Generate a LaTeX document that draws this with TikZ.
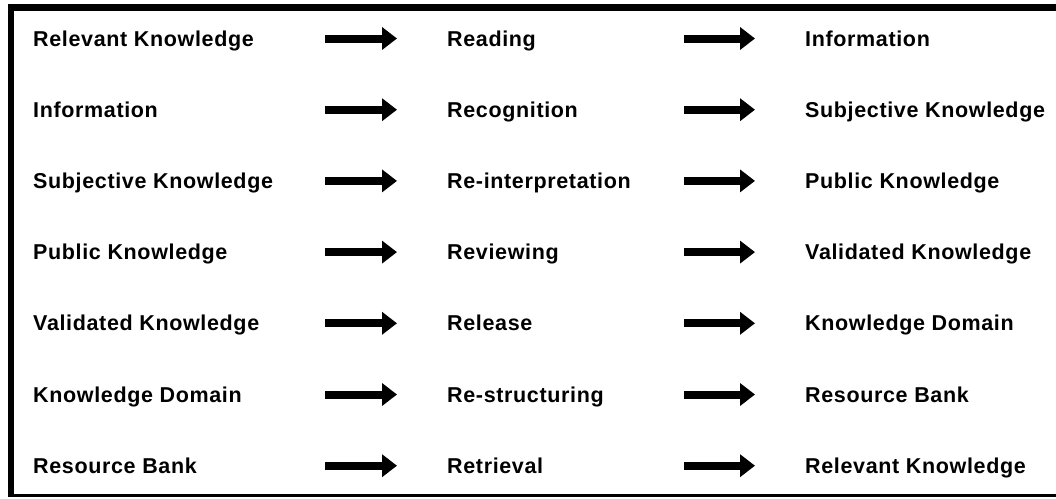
\documentclass[tikz,border=0pt]{standalone}
\usepackage{fontspec}
\setmainfont{Liberation Sans}[LetterSpace=3]
\usetikzlibrary{arrows.meta}
\begin{document}
\begin{tikzpicture}[x=1pt,y=-1pt,
  lbl/.style={anchor=base west,inner sep=0pt,font=\fontsize{21.5}{24}\selectfont\bfseries},
  flow/.style={line width=8pt,-{Triangle[length=15pt,width=22pt]}}]
\useasboundingbox (0,0) rectangle (1056,498);
\fill[white] (0,0) rectangle (1056,498);
% border
\fill[black] (8,4) rectangle (1056,11);
\fill[black] (8,4) rectangle (14,497);
\fill[black] (8,494) rectangle (1056,496.5);
\foreach \i/\a/\b/\c in {
 0/Relevant Knowledge/Reading/Information,
 1/Information/Recognition/Subjective Knowledge,
 2/Subjective Knowledge/Re-interpretation/Public Knowledge,
 3/Public Knowledge/Reviewing/Validated Knowledge,
 4/Validated Knowledge/Release/Knowledge Domain,
 5/Knowledge Domain/Re-structuring/Resource Bank,
 6/Resource Bank/Retrieval/Relevant Knowledge}{
  \pgfmathsetmacro{\yb}{46+71.2*\i}
  \pgfmathsetmacro{\ya}{\yb-7.5}
  \node[lbl] (s\i) at (33,\yb) {\a};
  \node[lbl] (p\i) at (447,\yb) {\b};
  \node[lbl] (r\i) at (805,\yb) {\c};
  \coordinate (a\i) at (325,\ya);
  \coordinate (b\i) at (397,\ya);
  \coordinate (c\i) at (684,\ya);
  \coordinate (d\i) at (755,\ya);
  \draw[flow] (a\i) -- (b\i);
  \draw[flow] (c\i) -- (d\i);
}
\end{tikzpicture}
\end{document}
